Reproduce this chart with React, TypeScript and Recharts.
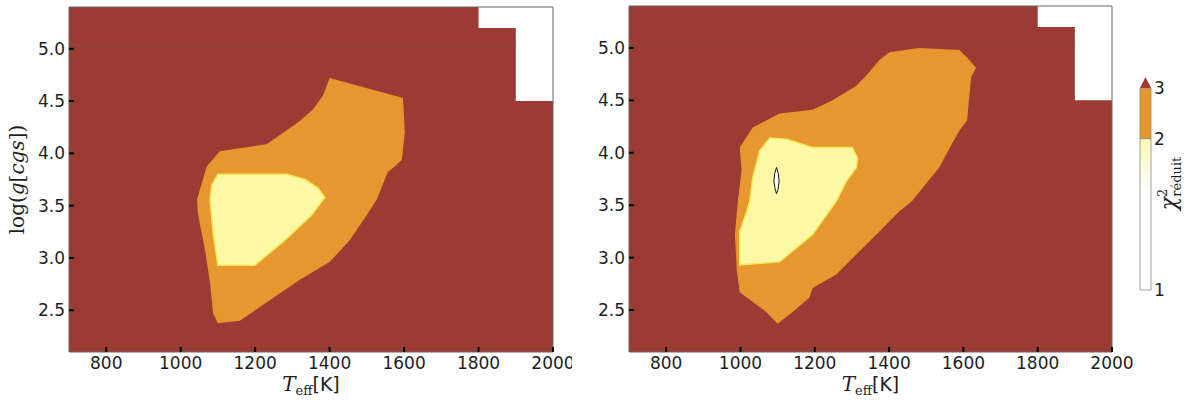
import React from "react";
import { ComposedChart, Scatter, XAxis, YAxis, BarChart, Bar } from "recharts";

const RED = "#9c3a34";
const ORANGE = "#e6972f";
const YELLOW = "#fcf8a6";
const YELLOW_EDGE = "#f2ea55";
const INK = "#1e1e1e";

const X_DOMAIN = [700, 2000];
const Y_DOMAIN = [2.1, 5.4];
const xTicks = [800, 1000, 1200, 1400, 1600, 1800, 2000];
const yTicks = [2.5, 3.0, 3.5, 4.0, 4.5, 5.0];

// no models in this corner of the grid
const gapTeff = [1800, 2000, 2000, 1900, 1900, 1800];
const gapLogg = [5.4, 5.4, 4.5, 4.5, 5.2, 5.2];

// faint grid line near log g = 5
const seamTeff = [700, 1900];
const seamLogg = [5.03, 5.03];

// left panel
const leftOrangeTeff = [1400, 1597, 1602, 1594, 1575, 1556, 1527, 1500, 1454, 1400, 1320, 1159, 1100, 1087, 1079, 1065, 1046, 1044, 1070, 1105, 1199, 1232, 1320, 1355, 1382];
const leftOrangeLogg = [4.72, 4.53, 4.2, 3.94, 3.875, 3.82, 3.56, 3.41, 3.17, 2.96, 2.79, 2.4, 2.375, 2.47, 2.76, 3.08, 3.43, 3.56, 3.875, 4.02, 4.07, 4.09, 4.31, 4.42, 4.55];
const leftYellowTeff = [1100, 1285, 1334, 1368, 1387, 1352, 1280, 1199, 1100, 1087, 1079, 1084];
const leftYellowLogg = [3.8, 3.8, 3.75, 3.67, 3.58, 3.41, 3.17, 2.93, 2.93, 3.24, 3.56, 3.7];

// right panel
const rightOrangeTeff = [998, 1033, 1105, 1194, 1248, 1312, 1347, 1374, 1401, 1481, 1589, 1610, 1634, 1621, 1615, 1610, 1589, 1570, 1535, 1489, 1462, 1427, 1374, 1258, 1194, 1186, 1140, 1100, 1070, 998, 990, 985, 993, 1003];
const rightOrangeLogg = [4.05, 4.24, 4.375, 4.41, 4.5, 4.64, 4.77, 4.885, 4.96, 5.0, 4.98, 4.91, 4.81, 4.72, 4.5, 4.31, 4.21, 4.09, 3.86, 3.66, 3.54, 3.44, 3.25, 2.84, 2.71, 2.62, 2.48, 2.37, 2.48, 2.67, 2.89, 3.22, 3.54, 3.83];
const rightYellowTeff = [1079, 1124, 1194, 1301, 1315, 1312, 1285, 1258, 1194, 1105, 998, 998, 1017, 1025, 1033, 1052];
const rightYellowLogg = [4.14, 4.13, 4.05, 4.05, 3.95, 3.86, 3.73, 3.54, 3.22, 2.96, 2.93, 3.25, 3.44, 3.54, 3.76, 4.02];
const rightMinTeff = [1097, 1102, 1104, 1101, 1097, 1093, 1090, 1092];
const rightMinLogg = [3.86, 3.8, 3.73, 3.65, 3.61, 3.66, 3.73, 3.8];

// colour bar
const cbBounds = [1, 2, 3];
const cbLength = [3, 1]; // drawn length of each band
const cbExtend = 0.22;
const cbTickPos = [0, cbLength[0], cbLength[0] + cbLength[1]];
const cbData = [{ name: "chi2", low: cbLength[0], high: cbLength[1], ext: cbExtend }];

const toPoints = (teff: number[], logg: number[]) => teff.map((t, i) => ({ teff: t, logg: logg[i] }));

const outline = (fill: string, stroke = "none", strokeWidth = 1, closed = true) => (props: any) => {
  const pts = props.points || [];
  if (!pts.length) return <g />;
  const d = pts.map((p: any, i: number) => `${i ? "L" : "M"}${p.x},${p.y}`).join(" ") + (closed ? " Z" : "");
  return <path d={d} fill={fill} stroke={stroke} strokeWidth={strokeWidth} />;
};

const noDot = () => null;

const tickStyle = { fontFamily: "DejaVu Sans", fontSize: 17, fill: INK };
const frameStyle = { stroke: "#666" };
const TICK_LEN = 5;
const X_GAP = 5;
const Y_GAP = 4;
const markStyle = { stroke: "#000", strokeWidth: 2 };

// inward tick marks are drawn with the label, from the tick position the axis hands over
const bottomTick = (p: any) => (
  <g>
    <line x1={p.x} x2={p.x} y1={p.y - X_GAP - TICK_LEN} y2={p.y - X_GAP} {...markStyle} />
    <text x={p.x} y={p.y} dy="0.71em" textAnchor="middle" {...tickStyle}>{p.payload.value}</text>
  </g>
);
const topTick = (p: any) => (
  <line x1={p.x} x2={p.x} y1={p.y} y2={p.y + TICK_LEN} {...markStyle} />
);
const leftTick = (p: any) => (
  <g>
    <line x1={p.x + Y_GAP} x2={p.x + Y_GAP + TICK_LEN} y1={p.y} y2={p.y} {...markStyle} />
    <text x={p.x} y={p.y} dy="0.355em" textAnchor="end" {...tickStyle}>{Number(p.payload.value).toFixed(1)}</text>
  </g>
);
const rightTick = (p: any) => (
  <line x1={p.x - TICK_LEN} x2={p.x} y1={p.y} y2={p.y} {...markStyle} />
);

const YLabel = (props: any) => {
  const vb = props.viewBox || { x: 0, y: 7, width: 69, height: 345 };
  const cx = 24;
  const cy = vb.y + vb.height / 2;
  return (
    <text x={cx} y={cy} transform={`rotate(-90 ${cx} ${cy})`} textAnchor="middle" fontFamily="DejaVu Serif" fontSize={20} fill={INK}>
      log(<tspan fontStyle="italic">g</tspan>[<tspan fontStyle="italic">cgs</tspan>])
    </text>
  );
};

const XLabel = (props: any) => {
  const vb = props.viewBox || { x: 69, y: 352, width: 484, height: 49 };
  return (
    <text x={vb.x + vb.width / 2} y={391} textAnchor="middle" fill={INK}>
      <tspan fontFamily="DejaVu Serif" fontStyle="italic" fontSize={20}>T</tspan>
      <tspan fontFamily="DejaVu Serif" fontSize={13} dy={4}>eff</tspan>
      <tspan fontFamily="DejaVu Sans" fontSize={19} dy={-4}>[K]</tspan>
    </text>
  );
};

const CbLabel = (props: any) => {
  const vb = props.viewBox || { x: 51, y: 77, width: 45, height: 213 };
  const cx = vb.x + 25;
  const cy = vb.y + vb.height / 2;
  return (
    <text x={cx} y={cy} transform={`rotate(-90 ${cx} ${cy})`} textAnchor="middle" fontFamily="DejaVu Serif" fill={INK}>
      <tspan fontStyle="italic" fontSize={22}>χ</tspan>
      <tspan fontSize={13} dy={-9}>2</tspan>
      <tspan fontSize={13} dx={-8} dy={14}>réduit</tspan>
    </text>
  );
};

type Layer = { teff: number[]; logg: number[]; fill: string; stroke?: string; width?: number; closed?: boolean };

// base: only reserves the layout under the fills; front: frame, ticks and all text on top
function Axes({ front, yWidth, withYLabel }: { front: boolean; yWidth: number; withYLabel?: boolean }) {
  const al = front ? frameStyle : false;
  return (
    <>
      <XAxis
        dataKey="teff"
        type="number"
        domain={X_DOMAIN}
        ticks={xTicks}
        interval={0}
        height={49}
        tick={front ? bottomTick : false}
        tickSize={0}
        tickMargin={X_GAP}
        tickLine={false}
        axisLine={al}
        label={front ? XLabel : undefined}
      />
      <XAxis
        xAxisId="top"
        orientation="top"
        dataKey="teff"
        type="number"
        domain={X_DOMAIN}
        ticks={xTicks}
        interval={0}
        height={1}
        tick={front ? topTick : false}
        tickSize={0}
        tickMargin={0}
        tickLine={false}
        axisLine={al}
      />
      <YAxis
        dataKey="logg"
        type="number"
        domain={Y_DOMAIN}
        ticks={yTicks}
        interval={0}
        width={yWidth}
        tick={front ? leftTick : false}
        tickSize={0}
        tickMargin={Y_GAP}
        tickLine={false}
        axisLine={al}
        label={front && withYLabel ? YLabel : undefined}
      />
      <YAxis
        yAxisId="right"
        orientation="right"
        dataKey="logg"
        type="number"
        domain={Y_DOMAIN}
        ticks={yTicks}
        interval={0}
        width={1}
        tick={front ? rightTick : false}
        tickSize={0}
        tickMargin={0}
        tickLine={false}
        axisLine={al}
      />
    </>
  );
}

function Panel({ width, top, right, yWidth, layers, withYLabel }: {
  width: number; top: number; right: number; yWidth: number; layers: Layer[]; withYLabel?: boolean;
}) {
  const bg: Layer = {
    teff: [X_DOMAIN[0], X_DOMAIN[1], X_DOMAIN[1], X_DOMAIN[0]],
    logg: [Y_DOMAIN[0], Y_DOMAIN[0], Y_DOMAIN[1], Y_DOMAIN[1]],
    fill: RED,
  };
  const all = [bg, ...layers];
  // top and right axes are 1px wide, so take one pixel off the margins
  const margin = { top: top - 1, right: right - 1, bottom: 0, left: 0 };
  return (
    <div style={{ position: "relative", width, height: 401 }}>
      <div style={{ position: "absolute", left: 0, top: 0 }}>
        <ComposedChart width={width} height={401} margin={margin}>
          {all.map((l, i) => (
            <Scatter
              key={i}
              data={toPoints(l.teff, l.logg)}
              line={outline(l.fill, l.stroke, l.width, l.closed !== false)}
              shape={noDot}
              isAnimationActive={false}
            />
          ))}
          {Axes({ front: false, yWidth })}
        </ComposedChart>
      </div>
      <div style={{ position: "absolute", left: 0, top: 0 }}>
        <ComposedChart width={width} height={401} margin={margin}>
          <Scatter data={toPoints(bg.teff, bg.logg)} shape={noDot} isAnimationActive={false} />
          {Axes({ front: true, yWidth, withYLabel })}
        </ComposedChart>
      </div>
    </div>
  );
}

const triangle = (p: any) => (
  <polygon
    points={`${p.x},${p.y + p.height} ${p.x + p.width},${p.y + p.height} ${p.x + p.width / 2},${p.y}`}
    fill={RED}
  />
);

function ColorBar() {
  return (
    <BarChart width={96} height={401} data={cbData} margin={{ top: 77, right: 0, bottom: 111, left: 40 }} barCategoryGap={0}>
      <defs>
        <linearGradient id="cbFade" x1="0" y1="0" x2="0" y2="1">
          <stop offset="0%" stopColor="#fbf7b0" />
          <stop offset="35%" stopColor="#ffffff" />
          <stop offset="100%" stopColor="#ffffff" />
        </linearGradient>
      </defs>
      <XAxis dataKey="name" hide />
      <YAxis
        orientation="right"
        type="number"
        domain={[0, cbTickPos[2] + cbExtend]}
        ticks={cbTickPos}
        interval={0}
        width={45}
        tick={tickStyle}
        tickFormatter={(v: number) => String(cbBounds[cbTickPos.indexOf(v)])}
        tickLine={false}
        axisLine={false}
        tickSize={0}
        tickMargin={3}
        label={CbLabel}
      />
      <Bar dataKey="low" stackId="c" fill="url(#cbFade)" stroke="#8c8c8c" strokeWidth={0.8} isAnimationActive={false} />
      <Bar dataKey="high" stackId="c" fill={ORANGE} stroke="#8c8c8c" strokeWidth={0.8} isAnimationActive={false} />
      <Bar dataKey="ext" stackId="c" shape={triangle} isAnimationActive={false} />
    </BarChart>
  );
}

export default function App() {
  const leftLayers: Layer[] = [
    { teff: gapTeff, logg: gapLogg, fill: "#ffffff" },
    { teff: seamTeff, logg: seamLogg, fill: "none", stroke: "#94403b", width: 2, closed: false },
    { teff: leftOrangeTeff, logg: leftOrangeLogg, fill: ORANGE },
    { teff: leftYellowTeff, logg: leftYellowLogg, fill: YELLOW, stroke: YELLOW_EDGE, width: 1.5 },
  ];
  const rightLayers: Layer[] = [
    { teff: gapTeff, logg: gapLogg, fill: "#ffffff" },
    { teff: seamTeff, logg: seamLogg, fill: "none", stroke: "#94403b", width: 2, closed: false },
    { teff: rightOrangeTeff, logg: rightOrangeLogg, fill: ORANGE },
    { teff: rightYellowTeff, logg: rightYellowLogg, fill: YELLOW, stroke: YELLOW_EDGE, width: 1.5 },
    { teff: rightMinTeff, logg: rightMinLogg, fill: "#ffffff", stroke: "#111", width: 1 },
  ];
  return (
    <div style={{ position: "absolute", left: 0, top: 0, width: 1196, height: 401, background: "#fff", overflow: "hidden" }}>
      <div style={{ position: "absolute", left: 0, top: 0, width: 572, height: 401, overflow: "hidden" }}>
        <Panel width={572} top={7} right={19} yWidth={69} layers={leftLayers} withYLabel />
      </div>
      <div style={{ position: "absolute", left: 572, top: 0 }}>
        <Panel width={624} top={6} right={84} yWidth={57} layers={rightLayers} />
      </div>
      <div style={{ position: "absolute", left: 1100, top: 0 }}>
        <ColorBar />
      </div>
    </div>
  );
}
